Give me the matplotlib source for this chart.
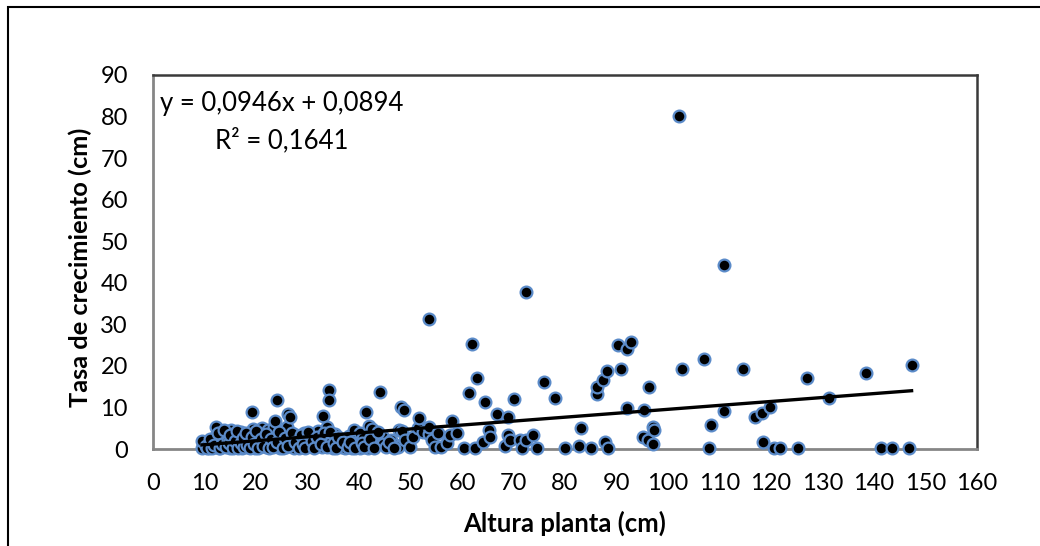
import matplotlib
matplotlib.use("Agg")
import matplotlib.pyplot as plt
from matplotlib.patches import Rectangle

# ---- data ----
altura = [
    9.5, 9.6, 10.2, 10.8, 11.2, 11.6, 12.0, 12.2, 12.5, 12.9, 13.2, 13.5, 13.8, 14.0, 14.3,
    14.6, 14.9, 15.2, 15.4, 15.7, 16.0, 16.2, 16.5, 16.8, 17.0, 17.3, 17.6, 17.9, 18.2, 18.5,
    18.7, 19.0, 19.2, 19.5, 19.8, 20.1, 20.5, 20.8, 21.2, 21.5, 21.9, 22.3, 22.6, 23.0, 23.4,
    23.6, 24.0, 24.3, 24.7, 25.0, 25.4, 25.8, 26.0, 26.3, 26.6, 26.9, 27.3, 27.7, 28.1, 28.5,
    28.9, 29.3, 29.7, 30.2, 30.6, 31.0, 31.5, 32.0, 32.4, 32.8, 33.1, 33.5, 33.7, 34.0, 34.2,
    34.2, 34.6, 35.0, 35.4, 35.8, 36.3, 36.7, 37.3, 37.6, 38.0, 38.6, 39.0, 39.4, 39.8, 40.2,
    40.2, 40.8, 41.3, 41.8, 41.9, 42.6, 43.0, 43.4, 44.0, 44.7, 44.7, 45.3, 46.3, 47.0, 47.6,
    47.7, 48.1, 48.3, 48.7, 48.9, 49.9, 50.5, 51.5, 51.7, 52.5, 53.5, 53.6, 53.6, 54.1, 54.8,
    55.3, 56.0, 57.0, 57.7, 58.0, 59.0, 60.4, 61.4, 62.0, 62.6, 63.0, 64.0, 64.4, 65.2, 65.5,
    66.8, 68.3, 69.0, 69.0, 69.4, 70.0, 71.3, 71.6, 72.4, 72.4, 73.7, 74.5, 75.9, 78.0, 80.0,
    82.8, 83.1, 85.0, 86.2, 86.3, 87.4, 87.8, 88.1, 88.3, 90.2, 90.9, 92.0, 92.0, 92.9, 95.2,
    95.4, 96.2, 96.4, 97.0, 97.0, 97.2, 102.1, 102.8, 106.9, 108.0, 108.3, 110.9, 110.9, 114.5,
    116.9, 118.3, 118.4, 119.9, 120.6, 121.7, 125.2, 126.9, 131.3, 138.4, 141.4, 143.4, 146.8,
    147.3,
    10.5, 11.0, 11.4, 11.9, 12.7, 13.0, 13.4, 13.7, 14.2, 14.5, 14.8, 15.0, 15.5, 15.9, 16.3,
    16.6, 17.1, 17.4, 17.7, 18.0, 18.3, 18.8, 19.3, 19.6, 20.0, 20.4, 20.9, 21.4, 22.0, 22.5,
    22.9, 23.3, 24.0, 24.5, 25.2, 25.6, 26.2, 27.0, 27.5, 28.3, 28.7, 29.1, 29.6, 30.0, 30.8,
    31.3, 31.8, 32.6, 33.2, 33.8, 34.4, 35.2, 35.6, 36.0, 36.9, 37.9, 38.3, 39.2, 40.5, 41.0,
    42.2, 42.9, 43.7, 45.8, 46.8,
]
tasa = [
    0.3, 1.9, 0.8, 0.2, 1.5, 0.5, 2.8, 5.4, 1.2, 0.3, 3.5, 2.0, 0.8, 4.2, 1.6,
    3.0, 0.2, 4.5, 2.4, 1.0, 3.8, 0.5, 2.9, 1.8, 4.0, 0.2, 3.2, 1.3, 2.5, 0.6,
    3.6, 1.9, 8.8, 4.8, 0.3, 2.7, 3.9, 1.1, 5.0, 2.2, 0.4, 4.6, 3.1, 1.5, 5.2,
    6.8, 11.7, 2.6, 0.3, 3.4, 1.8, 0.6, 5.4, 8.4, 7.6, 2.1, 0.2, 3.3, 1.4, 2.9,
    0.5, 3.8, 1.9, 2.5, 0.8, 3.6, 1.6, 4.3, 2.2, 0.4, 7.9, 3.0, 5.4, 1.2, 14.2,
    11.7, 2.7, 0.3, 3.5, 1.8, 2.2, 0.6, 0.2, 2.6, 3.2, 0.2, 4.6, 2.2, 1.0, 3.9,
    0.2, 2.6, 8.9, 0.2, 5.6, 4.8, 1.6, 3.4, 13.8, 2.8, 1.2, 0.6, 2.2, 1.0, 0.4,
    4.6, 10.2, 4.4, 9.3, 2.2, 0.4, 3.0, 5.0, 7.5, 4.0, 3.6, 5.4, 31.2, 2.2, 0.4,
    3.8, 0.4, 1.4, 3.4, 6.8, 3.8, 0.2, 13.4, 25.3, 0.2, 17.1, 1.8, 11.3, 4.6, 2.8,
    8.5, 0.7, 7.8, 3.4, 2.2, 12.0, 2.2, 0.2, 2.2, 37.7, 3.4, 0.2, 16.2, 12.3, 0.3,
    0.8, 5.0, 0.3, 13.2, 14.9, 16.6, 1.6, 18.8, 0.3, 25.0, 19.2, 24.1, 9.8, 25.7, 2.8,
    9.3, 2.1, 14.8, 1.2, 5.3, 4.5, 80.2, 19.2, 21.7, 0.3, 5.7, 44.2, 9.2, 19.2,
    7.7, 8.6, 1.8, 10.1, 0.2, 0.2, 0.2, 17.2, 12.2, 18.3, 0.2, 0.2, 0.2,
    20.2,
    0.2, 2.4, 0.3, 1.0, 3.8, 0.2, 1.2, 4.6, 0.5, 2.2, 1.4, 3.4, 0.3, 2.0, 4.4,
    0.2, 1.5, 2.6, 0.4, 3.9, 1.0, 0.2, 2.9, 1.2, 4.4, 0.2, 2.4, 0.8, 3.5, 0.2,
    2.4, 0.5, 1.8, 4.2, 0.2, 2.6, 0.8, 3.8, 1.6, 0.2, 3.3, 1.1, 0.2, 4.0, 2.0,
    0.2, 2.8, 1.2, 3.8, 0.4, 4.2, 1.5, 0.2, 3.0, 1.6, 0.4, 1.8, 0.2, 1.4, 0.6,
    2.4, 0.2, 4.0, 1.6, 0.2,
]
slope = 0.0946
intercept = 0.0894
trend_x = [9.5, 147.3]
eq_text = "y = 0,0946x + 0,0894"
r2_text = "R² = 0,1641"
x_ticks = list(range(0, 161, 10))
y_ticks = list(range(0, 91, 10))
x_label = "Altura planta (cm)"
y_label = "Tasa de crecimiento (cm)"

plt.rcParams['font.family'] = ['Lato', 'DejaVu Sans']

W, H = 1040, 546
fig = plt.figure(figsize=(W / 100, H / 100), dpi=100)
fig.patch.set_facecolor('white')

# outer chart border (cropped at right/bottom)
fig.patches.append(Rectangle((8 / W, -0.1), 1.2, 1 - 7 / H + 0.1,
                             transform=fig.transFigure, fill=False,
                             edgecolor='black', linewidth=1.5))

ax = fig.add_axes([153 / W, 1 - 449 / H, (977 - 153) / W, (449 - 75) / H])
ax.set_xlim(0, 160)
ax.set_ylim(0, 90)
ax.set_xticks(x_ticks)
ax.set_yticks(y_ticks)
ax.tick_params(length=0, labelsize=17, colors='black')
ax.tick_params(axis='x', pad=17)
ax.tick_params(axis='y', pad=18)

for side in ['left', 'bottom']:
    ax.spines[side].set_color('#868686')
    ax.spines[side].set_linewidth(2)
for side in ['top', 'right']:
    ax.spines[side].set_color('#3a3a3a')
    ax.spines[side].set_linewidth(1.8)

ax.scatter(altura, tasa, s=72, c='black', edgecolors='#5b8bc9',
           linewidths=1.6, zorder=3, clip_on=False)

ty = [slope * xv + intercept for xv in trend_x]
ax.plot(trend_x, ty, color='black', linewidth=2.4, zorder=4)

ax.text(160 / W, 1 - 103 / H, eq_text, transform=fig.transFigure,
        fontsize=18.5, ha='left', va='center')
ax.text(215 / W, 1 - 140 / H, r2_text, transform=fig.transFigure,
        fontsize=18.5, ha='left', va='center')

fig.text(565 / W, 1 - 523 / H, x_label, fontsize=18.5, fontweight='bold',
         ha='center', va='center')
fig.text(80 / W, 1 - 267 / H, y_label, fontsize=18.3, fontweight='bold',
         ha='center', va='center', rotation=90)

fig.savefig('out.png', dpi=100)
